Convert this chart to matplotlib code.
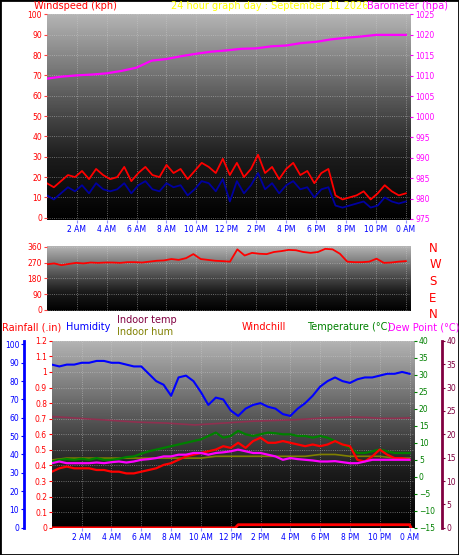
import numpy as np
import matplotlib
matplotlib.use("Agg")
import matplotlib.pyplot as plt
from matplotlib.colors import LinearSegmentedColormap
from matplotlib.patches import Rectangle

# ── Données ───────────────────────────────────────────────────────────────────
HOUR_TICKS = [2, 4, 6, 8, 10, 12, 14, 16, 18, 20, 22, 24]
HOUR_LABELS = ["2 AM", "4 AM", "6 AM", "8 AM", "10 AM", "12 PM", "2 PM", "4 PM",
               "6 PM", "8 PM", "10 PM", "0 AM"]

baro = [1009.3, 1009.8, 1010.1, 1010.3, 1010.6, 1011.2, 1012.0, 1013.7, 1014.1,
        1014.8, 1015.4, 1015.9, 1016.2, 1016.6, 1016.7, 1017.2, 1017.4, 1018.0,
        1018.3, 1018.9, 1019.3, 1019.6, 1020.0, 1020.0, 1020.0]

gust = [17, 15, 18, 21, 20, 23, 19, 24, 21, 19, 20, 25, 18, 22, 25, 21, 20, 26,
        22, 24, 19, 23, 27, 25, 22, 29, 21, 27, 20, 24, 31, 22, 25, 19, 24, 27,
        21, 23, 17, 22, 24, 11, 9, 10, 11, 13, 9, 12, 16, 13, 11, 12]
avg = [11, 9, 12, 15, 13, 16, 12, 17, 14, 13, 14, 17, 12, 16, 18, 14, 13, 17,
       15, 16, 11, 14, 18, 17, 13, 19, 8, 18, 12, 16, 22, 14, 17, 12, 16, 18,
       14, 15, 10, 14, 15, 6, 5, 6, 7, 8, 5, 6, 10, 8, 7, 8]

wdir = [260, 265, 255, 262, 268, 265, 270, 268, 270, 270, 268, 272, 272, 270,
        275, 280, 282, 290, 285, 295, 318, 290, 285, 280, 278, 275, 345, 310,
        325, 320, 318, 330, 335, 342, 340, 330, 325, 330, 348, 345, 320, 275,
        272, 272, 275, 292, 268, 270, 275, 278]

humidity = [89, 88, 89, 89, 90, 90, 91, 91, 90, 90, 89, 88, 88, 84, 80, 78, 72,
            82, 83, 80, 74, 67, 71, 70, 64, 61, 65, 67, 68, 66, 65, 62, 61, 65,
            68, 72, 77, 80, 82, 80, 79, 81, 82, 82, 83, 84, 84, 85, 84]
temperature = [4.5, 5.0, 5.2, 5.0, 5.3, 5.0, 5.5, 5.0, 5.0, 5.3, 5.8, 6.0, 6.8,
               7.5, 8.0, 8.5, 9.0, 9.5, 10.0, 10.5, 11.0, 12.0, 13.0, 11.5, 12.0,
               13.5, 12.5, 12.0, 12.5, 13.0, 12.8, 12.5, 12.5, 12.0, 12.0, 11.5,
               12.0, 11.5, 10.5, 9.5, 8.5, 7.0, 7.0, 7.5, 8.0, 7.5, 7.0, 7.0, 7.0]
windchill = [1.5, 2.5, 3.0, 2.5, 2.5, 2.5, 2.0, 2.0, 1.5, 1.5, 1.0, 1.0, 1.5,
             2.0, 2.5, 3.5, 4.0, 5.0, 6.0, 6.5, 7.0, 7.5, 8.0, 9.0, 8.5, 10.0,
             8.5, 10.5, 11.5, 10.0, 10.0, 10.5, 10.0, 9.5, 9.0, 9.5, 9.0, 9.5,
             10.5, 9.5, 9.0, 5.0, 4.5, 6.0, 8.0, 6.5, 5.5, 5.5, 5.0]
dewpoint = [4.0, 4.5, 4.0, 4.0, 4.0, 4.0, 4.2, 4.0, 4.3, 4.5, 4.2, 4.5, 5.0, 5.2,
            5.5, 6.0, 6.0, 6.5, 6.5, 7.0, 7.0, 6.5, 7.0, 7.2, 7.5, 8.0, 7.5, 7.0,
            7.0, 6.5, 6.0, 5.0, 5.5, 5.2, 5.0, 4.8, 4.5, 4.5, 4.6, 4.3, 4.0, 4.0,
            4.5, 5.0, 5.0, 5.0, 5.0, 5.0, 5.0]
indoor_temp = [23.8, 23.6, 23.4, 23.2, 23.0, 22.8, 22.6, 22.5, 22.4, 22.2, 22.0,
               22.2, 22.4, 22.6, 22.8, 22.9, 23.0, 23.1, 23.3, 23.5, 23.6, 23.7,
               23.6, 23.4, 23.4, 23.5]
indoor_hum = [37, 38, 38, 38, 38, 38, 38, 38, 38, 38, 38, 39, 39, 39, 39, 39, 39,
              39, 40, 40, 39, 39, 39, 38, 38]
rain_t = [0, 12.3, 12.5, 24.0, 24.1]
rain = [0.0, 0.0, 0.02, 0.02, 0.0]


def t(arr):
    return np.linspace(0, 24, len(arr))


GRAD = LinearSegmentedColormap.from_list(
    "g", [(0, "#000000"), (0.3, "#1c1c1c"), (0.6, "#5a5a5a"), (1, "#b4b4b4")])


def panel(ax):
    g = np.linspace(0, 1, 200).reshape(-1, 1)
    ax.imshow(g, extent=[0, 1, 0, 1], transform=ax.transAxes, aspect="auto",
              cmap=GRAD, origin="lower", zorder=0)
    ax.set_xlim(0, 24.3)
    ax.set_xticks(HOUR_TICKS)
    ax.grid(True, color="#d0d0d0", linestyle=":", linewidth=0.6, alpha=0.6)
    for s in ax.spines.values():
        s.set_visible(False)
    ax.tick_params(length=2, labelsize=5.5, pad=1.5)


fig = plt.figure(figsize=(4.59, 5.55), dpi=100)
fig.patches.append(Rectangle((0, 0), 1, 1, transform=fig.transFigure, fill=False,
                             edgecolor="black", linewidth=2))

# ── Vent + baromètre ──────────────────────────────────────────────────────────
ax1 = fig.add_axes([0.102, 0.604, 0.792, 0.370])
panel(ax1)
ax1.plot(t(gust), gust, color="#ff0000", linewidth=1.3, zorder=3)
ax1.plot(t(avg), avg, color="#0000a0", linewidth=1.3, zorder=4)
ax1.set_ylim(-1, 100)
ax1.set_yticks(range(0, 101, 10))
ax1.tick_params(axis="y", colors="#ff4040", labelcolor="#ff0000")
ax1.tick_params(axis="x", colors="#9090ff", labelcolor="#0000ff")
ax1.set_xticklabels(HOUR_LABELS)
ax1b = ax1.twinx()
ax1b.plot(t(baro), baro, color="#ff00ff", linewidth=1.6)
ax1b.set_ylim(974.8, 1025)
ax1b.set_yticks(range(975, 1026, 5))
for s in ax1b.spines.values():
    s.set_visible(False)
ax1b.tick_params(colors="#ff00ff", length=2, labelsize=5.5, pad=1.5)
fig.text(0.075, 0.998, "Windspeed (kph)", color="#ff0000", fontsize=7, va="top")
fig.text(0.372, 0.998, "24 hour graph day : September 11 2026", color="#ffff00",
         fontsize=7, va="top")
fig.text(0.80, 0.998, "Barometer (hpa)", color="#ff00ff", fontsize=7, va="top")

# ── Direction du vent ─────────────────────────────────────────────────────────
ax2 = fig.add_axes([0.102, 0.440, 0.792, 0.117])
panel(ax2)
ax2.plot(t(wdir), wdir, color="#ff0000", linewidth=1.3, zorder=3)
ax2.set_ylim(-5, 365)
ax2.set_yticks([0, 90, 180, 270, 360])
ax2.set_xticklabels([])
ax2.tick_params(axis="x", length=0)
ax2.tick_params(axis="y", colors="#ff4040", labelcolor="#ff0000")
for i, c in enumerate(["N", "W", "S", "E", "N"]):
    fig.text(0.935, 0.553 - i * 0.030, c, color="#ff0000", fontsize=8.5, va="center")

# ── Températures / humidité / pluie ───────────────────────────────────────────
ax3 = fig.add_axes([0.113, 0.049, 0.789, 0.337])
panel(ax3)
ax3.set_ylim(0, 1.2)
ax3.set_yticks(np.arange(0, 1.21, 0.1))
ax3.set_yticklabels(["0", "0.1", "0.2", "0.3", "0.4", "0.5", "0.6", "0.7", "0.8",
                     "0.9", "1", "1.1", "1.2"])
ax3.tick_params(axis="y", colors="#ff0000")
ax3.tick_params(axis="x", colors="#9090ff", labelcolor="#0000ff")
ax3.set_xticklabels(HOUR_LABELS)
ax3.plot(rain_t, rain, color="#ff0000", linewidth=2, zorder=5)

axh = ax3.twinx()
axh.set_ylim(0, 102)
axh.set_yticks(range(0, 101, 10))
axh.yaxis.set_ticks_position("left")
axh.spines["left"].set_position(("outward", 20))
axh.spines["left"].set_color("#0000ff")
axh.spines["left"].set_linewidth(2)
for k in ("right", "top", "bottom"):
    axh.spines[k].set_visible(False)
axh.tick_params(colors="#0000ff", length=2, labelsize=5.5, pad=1.5)
axh.plot(t(humidity), humidity, color="#0000ff", linewidth=1.5, zorder=4)
axh.plot(t(indoor_hum), indoor_hum, color="#808000", linewidth=1.2)

axt = ax3.twinx()
axt.set_ylim(-15, 40)
axt.set_yticks(range(-15, 41, 5))
for k in ("left", "top", "bottom", "right"):
    axt.spines[k].set_visible(False)
axt.tick_params(colors="#008000", length=2, labelsize=5.5, pad=1.5)
axt.plot(t(temperature), temperature, color="#008000", linewidth=1.6)
axt.plot(t(windchill), windchill, color="#ff0000", linewidth=1.6)
axt.plot(t(dewpoint), dewpoint, color="#ff00ff", linewidth=1.6)

axi = ax3.twinx()
axi.set_ylim(0, 40)
axi.set_yticks(range(0, 41, 5))
axi.spines["right"].set_position(("outward", 20))
axi.spines["right"].set_color("#800040")
axi.spines["right"].set_linewidth(2)
for k in ("left", "top", "bottom"):
    axi.spines[k].set_visible(False)
axi.tick_params(colors="#800040", length=2, labelsize=5.5, pad=1.5)
axi.plot(t(indoor_temp), indoor_temp, color="#903050", linewidth=1.2)

fig.text(0.005, 0.405, "Rainfall (.in)", color="#ff0000", fontsize=7)
fig.text(0.143, 0.405, "Humidity", color="#0000ff", fontsize=7)
fig.text(0.255, 0.418, "Indoor temp", color="#800040", fontsize=7)
fig.text(0.255, 0.396, "Indoor hum", color="#808000", fontsize=7)
fig.text(0.527, 0.405, "Windchill", color="#ff0000", fontsize=7)
fig.text(0.670, 0.405, "Temperature (°C)", color="#008000", fontsize=7)
fig.text(0.845, 0.405, "Dew Point (°C)", color="#ff00ff", fontsize=7)

fig.savefig("out.png", dpi=100)
